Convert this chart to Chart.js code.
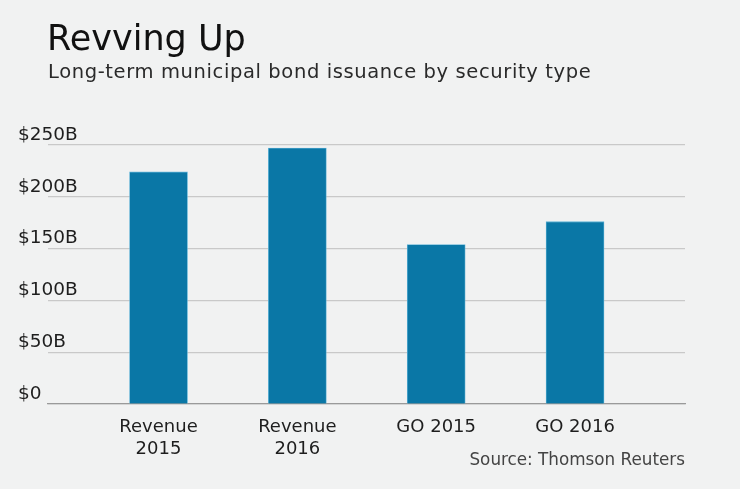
<!DOCTYPE html>
<html>
<head>
<meta charset="utf-8">
<script src="https://cdn.jsdelivr.net/npm/chart.js@4"></script>
<style>
  html, body { margin: 0; padding: 0; background: #f1f2f2; }
  #wrap { position: relative; width: 740px; height: 489px; overflow: hidden; }
  #c { position: absolute; left: 0; top: 0; }
  .t { position: absolute; font-family: "DejaVu Sans", Verdana, sans-serif; white-space: nowrap; }
  #title { left: 47px; top: 18px; font-size: 35px; color: #111; }
  #sub { left: 48px; top: 60px; font-size: 19.5px; letter-spacing: 0.62px; color: #2a2a2a; }
  #src { right: 55px; top: 449px; font-size: 16.8px; color: #444; }
</style>
</head>
<body>
<div id="wrap">
  <canvas id="c" width="740" height="489"></canvas>
  <div class="t" id="title">Revving Up</div>
  <div class="t" id="sub">Long-term municipal bond issuance by security type</div>
  <div class="t" id="src">Source: Thomson Reuters</div>
</div>
<script>
const categories = [["Revenue", "2015"], ["Revenue", "2016"], ["GO 2015"], ["GO 2016"]];
const issuance = [224, 247, 154, 176];
const yTickValues = [0, 50, 100, 150, 200, 250];
const yTickLabels = ["$0", "$50B", "$100B", "$150B", "$200B", "$250B"];

const points = issuance.map((v, i) => ({ x: i, y: v }));

new Chart(document.getElementById('c'), {
  type: 'bar',
  data: {
    datasets: [{
      data: points,
      backgroundColor: '#0a77a6',
      borderColor: '#5fb3d6',
      borderWidth: 0.8,
      barThickness: 58
    }]
  },
  options: {
    responsive: false,
    animation: false,
    events: [],
    layout: { padding: { left: 18, right: 55, top: 145, bottom: 0 } },
    plugins: { legend: { display: false }, tooltip: { enabled: false } },
    scales: {
      x: {
        type: 'linear',
        offset: false,
        min: -0.796,
        max: 3.792,
        afterBuildTicks: (axis) => { axis.ticks = categories.map((c, i) => ({ value: i })); },
        afterFit: (axis) => { axis.height = 85; },
        grid: { display: false, drawTicks: false, offset: false },
        border: { display: true, color: '#9a9a9a', width: 1.2 },
        ticks: {
          padding: 13,
          color: '#1e1e1e',
          font: { family: 'DejaVu Sans', size: 18 },
          maxRotation: 0,
          autoSkip: false,
          callback: (v) => categories[v]
        }
      },
      y: {
        min: 0,
        max: 250,
        afterBuildTicks: (axis) => { axis.ticks = yTickValues.map(v => ({ value: v })); },
        afterFit: (axis) => { axis.width = 30; },
        grid: { color: '#c9c9c9', lineWidth: 1.2, drawTicks: false },
        border: { display: false },
        ticks: {
          mirror: true,
          crossAlign: 'near',
          labelOffset: -10,
          padding: -30,
          color: '#1e1e1e',
          font: { family: 'DejaVu Sans', size: 18.5 },
          callback: (v) => yTickLabels[yTickValues.indexOf(v)]
        }
      }
    }
  }
});
</script>
</body>
</html>
